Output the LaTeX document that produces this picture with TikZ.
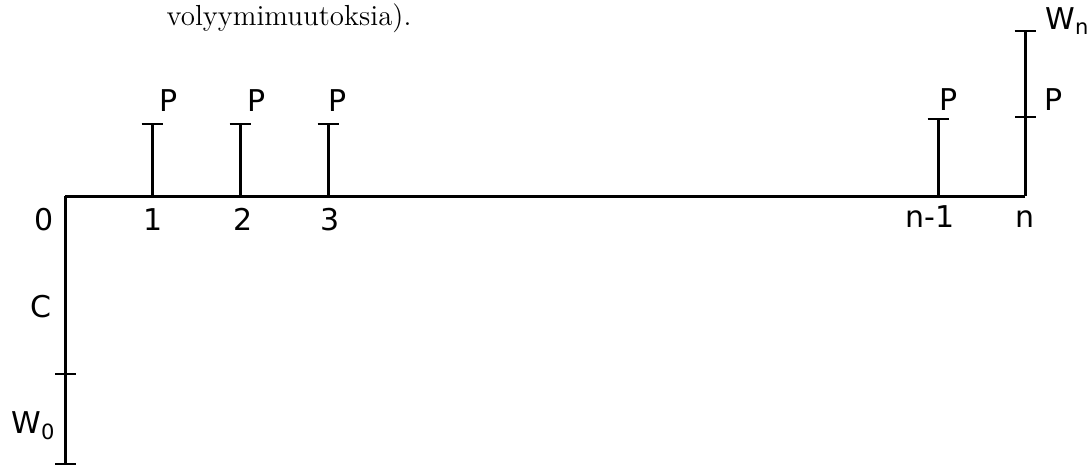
\documentclass[tikz,border=0pt]{standalone}
\usepackage{fontspec}
\newfontfamily\lettering{DejaVu Sans}
\usetikzlibrary{arrows.meta}

\begin{document}
\begin{tikzpicture}[x=0.5pt, y=-0.5pt, line width=1.5pt,
    lbl/.style={font=\lettering\fontsize{15}{15}\selectfont, inner sep=0pt},
    pay/.style={-{Bar[width=10.5pt, line width=1pt]}},
    cross/.style={{Bar[width=10.5pt, line width=1pt]}-{Bar[width=10.5pt, line width=1pt]}}]
  \useasboundingbox (0,0) rectangle (1090,467);
  \node[font=\fontsize{14.5}{16}\selectfont, anchor=base, inner sep=0pt] (note) at (289,25) {volyymimuutoksia).};
  % time points
  \coordinate (t0) at (65,196);
  \coordinate (t1) at (152,196);
  \coordinate (t2) at (240,196);
  \coordinate (t3) at (328,196);
  \coordinate (tm) at (938,196);
  \coordinate (tn) at (1025,196);
  % payment tops
  \coordinate (p1) at (152,123);
  \coordinate (p2) at (240,123);
  \coordinate (p3) at (328,123);
  \coordinate (pm) at (938,118);
  \coordinate (pn) at (1025,118);
  \coordinate (wn) at (1025,30);
  % outlay
  \coordinate (c) at (65,375);
  \coordinate (w0) at (65,465);
  \draw (t0) -- (tn);
  \draw[pay] (t1) -- (p1);
  \draw[pay] (t2) -- (p2);
  \draw[pay] (t3) -- (p3);
  \draw[pay] (tm) -- (pm);
  \draw (tn) -- (pn);
  \draw[cross] (pn) -- (wn);
  \draw[pay] (t0) -- (c);
  \draw[pay] (c) -- (w0);
  % labels
  \node[lbl] (lp1) at (169,101) {P};
  \node[lbl] (lp2) at (257,101) {P};
  \node[lbl] (lp3) at (338,101) {P};
  \node[lbl] (lpm) at (949,100) {P};
  \node[lbl] (lpn) at (1054,100) {P};
  \node[lbl, anchor=west] (lwn) at (1044,21) {W\textsubscript{n}};
  \node[lbl, anchor=base] (l0) at (44,230) {0};
  \node[lbl, anchor=base] (l1) at (153,230) {1};
  \node[lbl, anchor=base] (l2) at (243,230) {2};
  \node[lbl, anchor=base] (l3) at (330,230) {3};
  \node[lbl, anchor=base] (lm) at (930,227) {n-1};
  \node[lbl, anchor=base] (ln) at (1025,227) {n};
  \node[lbl] (lc) at (41,307) {C};
  \node[lbl, anchor=west] (lw0) at (10,426) {W\textsubscript{0}};
\end{tikzpicture}
\end{document}
